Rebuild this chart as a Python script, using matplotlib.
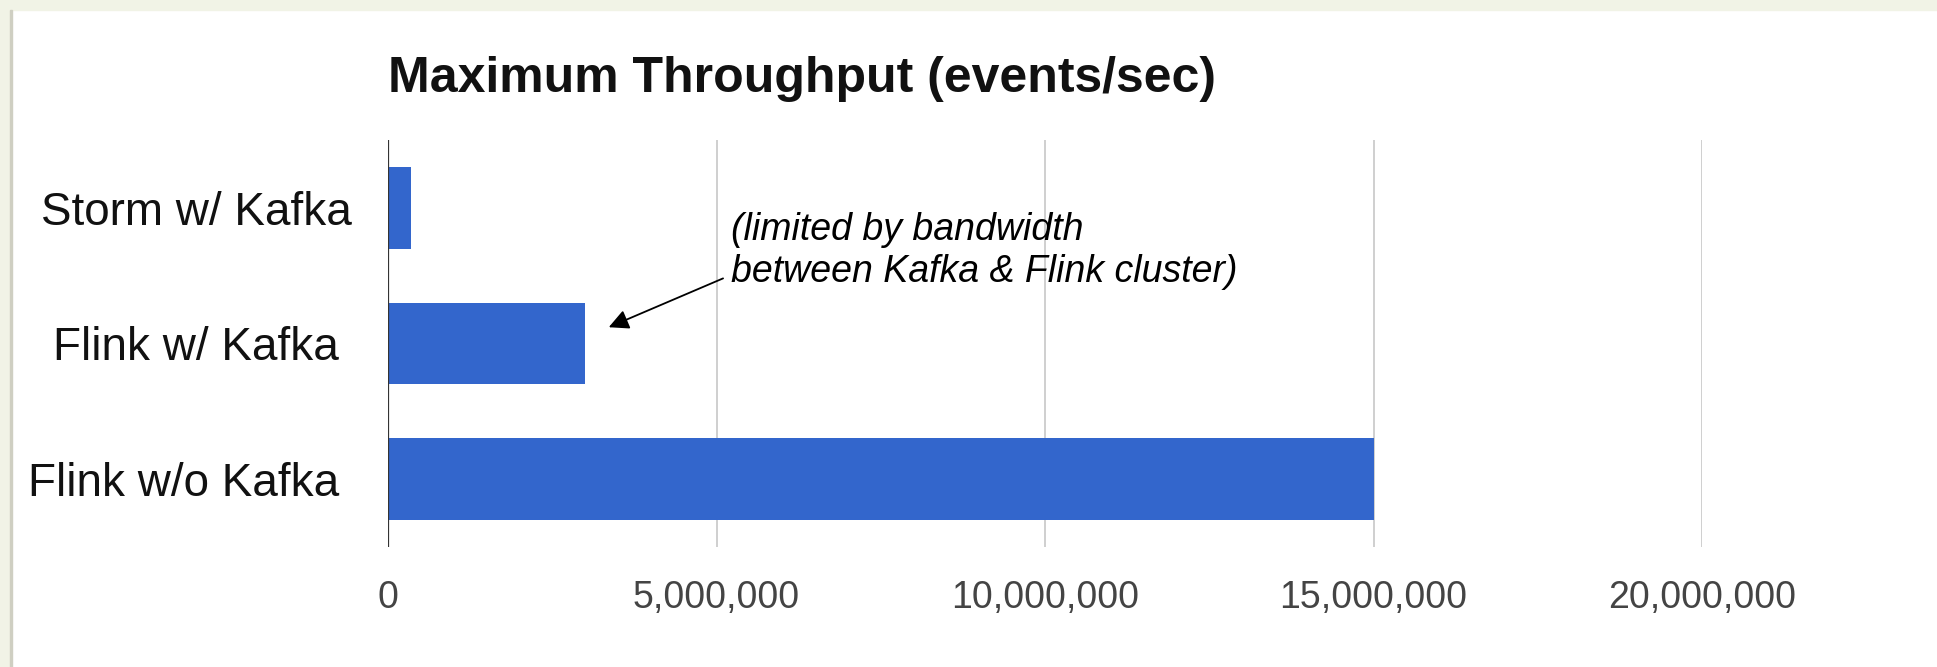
import matplotlib.pyplot as plt
from matplotlib.patches import Rectangle
from matplotlib.ticker import FuncFormatter

# data
systems = ['Storm w/ Kafka', 'Flink w/ Kafka ', 'Flink w/o Kafka ']
throughput = [350000, 3000000, 15000000]
x_ticks = [0, 5000000, 10000000, 15000000, 20000000]
note_lines = ['(limited by bandwidth', 'between Kafka & Flink cluster)']

plt.rcParams['font.family'] = ['Liberation Sans', 'DejaVu Sans']

W, H = 1937, 667
fig = plt.figure(figsize=(W / 100, H / 100), dpi=100)
fig.patch.set_facecolor('white')

# page frame round the chart (beige strips + thin grey line)
fig.patches.append(Rectangle((0, 1 - 10 / H), 1, 10 / H, transform=fig.transFigure,
                             color='#f1f3e6', zorder=0))
fig.patches.append(Rectangle((0, 0), 10 / W, 1, transform=fig.transFigure,
                             color='#f1f3e6', zorder=0))
fig.patches.append(Rectangle((10 / W, 0), 2 / W, 1 - 10 / H, transform=fig.transFigure,
                             color='#cfcfc2', zorder=0))

ax = fig.add_axes([388 / W, 1 - 547 / H, (1702 - 388) / W, (547 - 140) / H])
ax.set_facecolor('none')

ypos = list(range(len(systems)))
ax.barh(ypos, throughput, height=0.6, color='#3366cc', zorder=3)

ax.set_xlim(0, 20000000)
ax.set_ylim(len(systems) - 0.5, -0.5)
ax.set_xticks(x_ticks)
ax.xaxis.set_major_formatter(FuncFormatter(lambda v, p: f'{int(v):,}'))
ax.set_yticks(ypos)
ax.set_yticklabels(systems, fontsize=33, color='#111111')
ax.tick_params(axis='y', length=0, pad=26)
ax.tick_params(axis='x', length=0, pad=24, labelsize=27, labelcolor='#444444')

for s in ax.spines.values():
    s.set_visible(False)
for t in x_ticks[1:]:
    ax.axvline(t, color='#cccccc', lw=1.3, zorder=1)
ax.axvline(0, color='#333333', lw=1.6, zorder=4)

fig.text(388 / W, 1 - 92 / H, 'Maximum Throughput (events/sec)', fontsize=36,
         fontweight='bold', color='#111111', va='baseline', ha='left')

# annotation on the Flink w/ Kafka bar
ax.annotate('', xy=(3360000, 0.88), xytext=(5100000, 0.52),
            arrowprops=dict(arrowstyle='-|>', color='black', lw=1.3,
                            mutation_scale=30, shrinkA=0, shrinkB=0), zorder=5)
ax.text(5220000, 0.24, note_lines[0], fontsize=27, style='italic', va='baseline', zorder=5)
ax.text(5220000, 0.545, note_lines[1], fontsize=27, style='italic', va='baseline', zorder=5)

plt.savefig('out.png', dpi=100)
